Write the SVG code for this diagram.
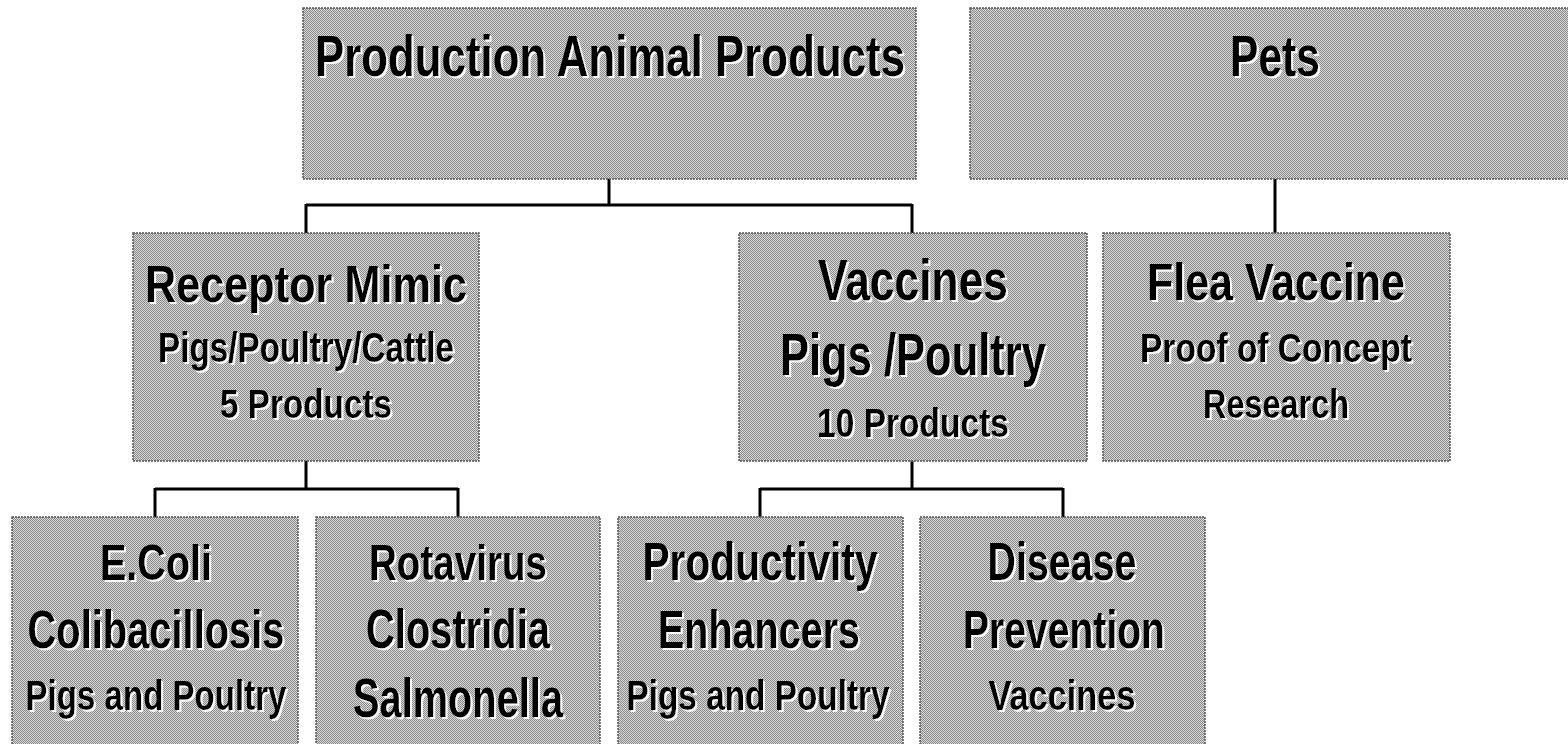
<svg xmlns="http://www.w3.org/2000/svg" width="1568" height="744" viewBox="0 0 1568 744">
<defs>
<pattern id="dither" width="2" height="2" patternUnits="userSpaceOnUse">
<rect width="2" height="2" fill="#d6d6d6"/>
<rect x="0" y="0" width="1" height="1" fill="#8c8c8c"/>
<rect x="1" y="1" width="1" height="1" fill="#8c8c8c"/>
</pattern>
<filter id="halo" x="-5%" y="-20%" width="110%" height="140%">
<feDropShadow dx="2" dy="2" stdDeviation="0.6" flood-color="#ffffff" flood-opacity="0.9"/>
</filter>
</defs>
<style>
.box{fill:url(#dither);stroke:#555;stroke-width:1.5;stroke-dasharray:2 1}
.t{font-family:"Liberation Sans",Arial,sans-serif;font-weight:bold;fill:#000;text-anchor:middle;filter:url(#halo)}
.conn{fill:none;stroke:#000;stroke-width:3}
</style>
<rect width="1568" height="744" fill="#fff"/>
<g id="connectors">
<path class="conn" d="M609,179 V205 M306,205 H912 M306,204 V234 M912,204 V234"/>
<path class="conn" d="M1275,179 V234"/>
<path class="conn" d="M306,461 V489 M155,489 H458 M155,488 V517 M458,488 V517"/>
<path class="conn" d="M912,461 V489 M760,489 H1063 M760,488 V517 M1063,488 V517"/>
</g>
<g id="production">
<rect class="box" x="303" y="8" width="613" height="171"/>
<text class="t" x="610" y="76" font-size="58" textLength="590" lengthAdjust="spacingAndGlyphs">Production Animal Products</text>
</g>
<g id="pets">
<rect class="box" x="970" y="8" width="604" height="171"/>
<text class="t" x="1275" y="76" font-size="58" textLength="90" lengthAdjust="spacingAndGlyphs">Pets</text>
</g>
<g id="receptor">
<rect class="box" x="133" y="233" width="346" height="228"/>
<text class="t" x="306" y="302" font-size="52" textLength="322" lengthAdjust="spacingAndGlyphs">Receptor Mimic</text>
<text class="t" x="306" y="362" font-size="42" textLength="296" lengthAdjust="spacingAndGlyphs">Pigs/Poultry/Cattle</text>
<text class="t" x="306" y="418" font-size="41" textLength="172" lengthAdjust="spacingAndGlyphs">5 Products</text>
</g>
<g id="vaccines">
<rect class="box" x="739" y="233" width="348" height="228"/>
<text class="t" x="913" y="300" font-size="58" textLength="190" lengthAdjust="spacingAndGlyphs">Vaccines</text>
<text class="t" x="913" y="375" font-size="60" textLength="266" lengthAdjust="spacingAndGlyphs">Pigs /Poultry</text>
<text class="t" x="913" y="437" font-size="41" textLength="192" lengthAdjust="spacingAndGlyphs">10 Products</text>
</g>
<g id="flea">
<rect class="box" x="1103" y="233" width="347" height="228"/>
<text class="t" x="1276" y="300" font-size="51" textLength="258" lengthAdjust="spacingAndGlyphs">Flea Vaccine</text>
<text class="t" x="1276" y="362" font-size="40" textLength="272" lengthAdjust="spacingAndGlyphs">Proof of Concept</text>
<text class="t" x="1276" y="418" font-size="40" textLength="146" lengthAdjust="spacingAndGlyphs">Research</text>
</g>
<g id="ecoli">
<rect class="box" x="12" y="517" width="286" height="240"/>
<text class="t" x="156" y="580" font-size="50" textLength="112" lengthAdjust="spacingAndGlyphs">E.Coli</text>
<text class="t" x="156" y="648" font-size="53" textLength="257" lengthAdjust="spacingAndGlyphs">Colibacillosis</text>
<text class="t" x="156" y="710" font-size="42" textLength="261" lengthAdjust="spacingAndGlyphs">Pigs and Poultry</text>
</g>
<g id="rotavirus">
<rect class="box" x="316" y="517" width="284" height="240"/>
<text class="t" x="458" y="580" font-size="50" textLength="178" lengthAdjust="spacingAndGlyphs">Rotavirus</text>
<text class="t" x="458" y="648" font-size="55" textLength="184" lengthAdjust="spacingAndGlyphs">Clostridia</text>
<text class="t" x="458" y="717" font-size="55" textLength="210" lengthAdjust="spacingAndGlyphs">Salmonella</text>
</g>
<g id="productivity">
<rect class="box" x="618" y="517" width="285" height="240"/>
<text class="t" x="760" y="580" font-size="53" textLength="235" lengthAdjust="spacingAndGlyphs">Productivity</text>
<text class="t" x="759" y="648" font-size="53" textLength="202" lengthAdjust="spacingAndGlyphs">Enhancers</text>
<text class="t" x="758" y="710" font-size="42" textLength="263" lengthAdjust="spacingAndGlyphs">Pigs and Poultry</text>
</g>
<g id="disease">
<rect class="box" x="920" y="517" width="285" height="240"/>
<text class="t" x="1062" y="580" font-size="53" textLength="149" lengthAdjust="spacingAndGlyphs">Disease</text>
<text class="t" x="1064" y="648" font-size="53" textLength="202" lengthAdjust="spacingAndGlyphs">Prevention</text>
<text class="t" x="1062" y="710" font-size="42" textLength="147" lengthAdjust="spacingAndGlyphs">Vaccines</text>
</g>
</svg>
